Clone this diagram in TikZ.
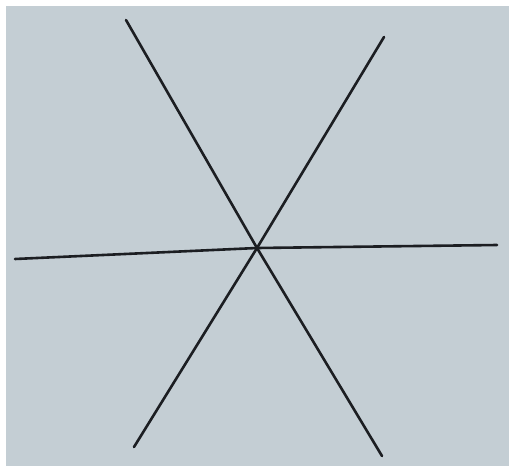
\documentclass[tikz,border=0pt]{standalone}
\begin{document}
\begin{tikzpicture}[x=1pt,y=-1pt,
  stroke/.style={line width=2.6pt, draw={rgb,255:red,28;green,30;blue,34}, line cap=round}]
\definecolor{paper}{RGB}{196,206,212}
\useasboundingbox (0,0) rectangle (509,466);
\fill[white] (0,0) rectangle (509,466);
\fill[paper] (6,6) rectangle (509,466);
\coordinate (c) at (257,248);
\coordinate (a1) at (126,20);
\coordinate (a2) at (382,456);
\coordinate (b1) at (384,37);
\coordinate (b2) at (134,447);
\coordinate (h1) at (15,259);
\coordinate (h2) at (497,245);
\draw[stroke] (a1) -- (c) -- (a2);
\draw[stroke] (b1) -- (c) -- (b2);
\draw[stroke] (h1) -- (c) -- (h2);
\end{tikzpicture}
\end{document}
